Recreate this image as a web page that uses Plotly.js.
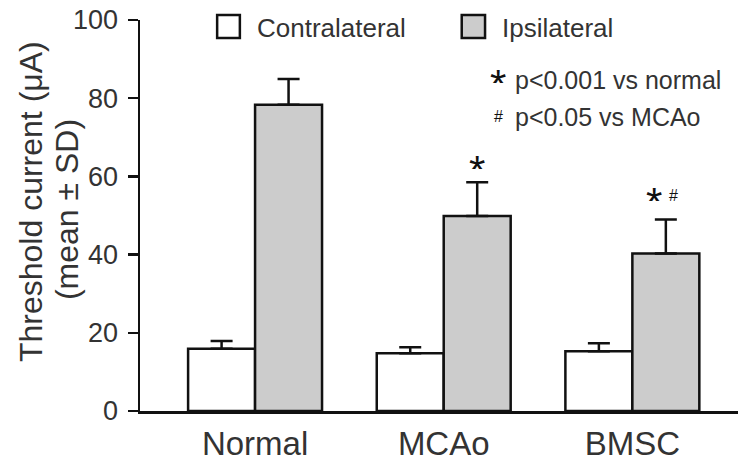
<!DOCTYPE html>
<html><head><meta charset="utf-8">
<script src="https://cdn.plot.ly/plotly-3.0.1.min.js"></script>
<style>body{margin:0;background:#fff}#chart{width:738px;height:464px}</style>
</head><body><div id="chart"></div>
<script>
const categories = ['Normal', 'MCAo', 'BMSC'];
const contralateral = [15.9, 14.8, 15.3];
const contralateralSD = [2.0, 1.5, 2.0];
const ipsilateral = [78.3, 49.9, 40.3];
const ipsilateralSD = [6.6, 8.6, 8.7];
const starMarks = ['', '*', '*'];
const hashMarks = ['', '', '#'];
const yTicks = [0, 20, 40, 60, 80, 100];

const font = {family: 'Liberation Sans, Arial, sans-serif', color: '#333'};
const barLine = {color: '#111', width: 2.5};
const errStyle = (arr) => ({type: 'data', array: arr, arrayminus: arr.map(() => 0), symmetric: false,
  color: '#111', thickness: 2.5, width: 11});

const traces = [
  {type: 'bar', name: 'Contralateral', x: categories, y: contralateral,
   marker: {color: '#ffffff', line: barLine}, error_y: errStyle(contralateralSD)},
  {type: 'bar', name: 'Ipsilateral', x: categories, y: ipsilateral,
   marker: {color: '#cccccc', line: barLine}, error_y: errStyle(ipsilateralSD)}
];

const starFont = {...font, size: 42, color: '#111'};
const hashFont = {...font, size: 16, color: '#111'};
const annotations = [];
categories.forEach((c, i) => {
  const both = starMarks[i] && hashMarks[i];
  if (starMarks[i]) annotations.push({x: i + 0.178, y: ipsilateral[i] + ipsilateralSD[i], xref: 'x', yref: 'y',
    text: starMarks[i], showarrow: false, yanchor: 'middle', height: 22, valign: 'top', yshift: both ? 29 : 24,
    xshift: both ? -12 : 0, font: starFont});
  if (hashMarks[i]) annotations.push({x: i + 0.178, y: ipsilateral[i] + ipsilateralSD[i], xref: 'x', yref: 'y',
    text: hashMarks[i], showarrow: false, yanchor: 'middle', yshift: 24, xshift: 8, font: hashFont});
});
annotations.push(
  {x: 0.192, y: 0.98, xref: 'paper', yref: 'paper', text: 'Contralateral', showarrow: false, xanchor: 'left', yanchor: 'middle', font: {...font, size: 26}},
  {x: 0.602, y: 0.98, xref: 'paper', yref: 'paper', text: 'Ipsilateral', showarrow: false, xanchor: 'left', yanchor: 'middle', font: {...font, size: 26}},
  {x: 0.598, y: 0.868, xref: 'paper', yref: 'paper', text: '*', showarrow: false, xanchor: 'center', yanchor: 'middle', height: 22, valign: 'top', font: starFont},
  {x: 0.624, y: 0.847, xref: 'paper', yref: 'paper', text: 'p&lt;0.001 vs normal', showarrow: false, xanchor: 'left', yanchor: 'middle', font: {...font, size: 25}},
  {x: 0.600, y: 0.752, xref: 'paper', yref: 'paper', text: '#', showarrow: false, xanchor: 'center', yanchor: 'middle', font: hashFont},
  {x: 0.624, y: 0.752, xref: 'paper', yref: 'paper', text: 'p&lt;0.05 vs MCAo', showarrow: false, xanchor: 'left', yanchor: 'middle', font: {...font, size: 25}},
  {x: -0.1823, y: 0.537, xref: 'paper', yref: 'paper', text: 'Threshold current (μA)', textangle: -90, showarrow: false, xanchor: 'center', yanchor: 'middle', font: {...font, size: 32}},
  {x: -0.122, y: 0.514, xref: 'paper', yref: 'paper', text: '(mean ± SD)', textangle: -90, showarrow: false, xanchor: 'center', yanchor: 'middle', font: {...font, size: 32}}
);

const shapes = [
  {type: 'rect', xref: 'paper', yref: 'paper', x0: 0.129, x1: 0.167, y0: 0.954, y1: 1.013, fillcolor: '#ffffff', line: {color: '#111', width: 2.5}},
  {type: 'rect', xref: 'paper', yref: 'paper', x0: 0.538, x1: 0.577, y0: 0.954, y1: 1.013, fillcolor: '#cccccc', line: {color: '#111', width: 2.5}}
];

const layout = {
  width: 738, height: 464,
  margin: {l: 140, r: 0, t: 20, b: 53, pad: 0},
  paper_bgcolor: '#fff', plot_bgcolor: '#fff',
  barmode: 'group', bargap: 0.29, bargroupgap: 0,
  showlegend: false,
  font: font,
  xaxis: {type: 'category', range: [-0.61, 2.56], showline: true, linecolor: '#111', linewidth: 2.5,
    ticks: '', showgrid: false, zeroline: false, tickfont: {...font, size: 33}, ticklabelstandoff: 2},
  yaxis: {range: [0, 100], tickvals: yTicks, ticktext: yTicks.map(String), showline: true, linecolor: '#111', linewidth: 2.5,
    ticks: 'outside', ticklen: 10, tickwidth: 2.5, tickcolor: '#111', showgrid: false, zeroline: false,
    tickfont: {...font, size: 27}, ticklabelstandoff: 4},
  annotations: annotations,
  shapes: shapes
};

Plotly.newPlot('chart', traces, layout, {displayModeBar: false, staticPlot: true});
</script></body></html>
